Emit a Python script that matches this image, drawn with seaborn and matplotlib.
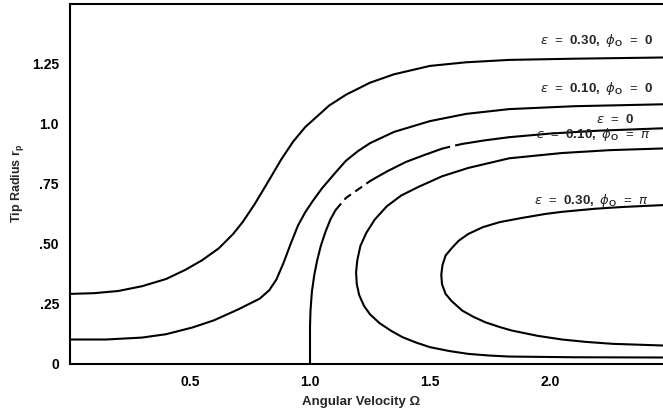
import numpy as np
import pandas as pd
import matplotlib
matplotlib.use("Agg")
import matplotlib.pyplot as plt
import seaborn as sns

# ---------------- data ----------------
omega_e30_p0 = [0.0, 0.1, 0.2, 0.3, 0.4, 0.48, 0.55, 0.62, 0.68, 0.72, 0.77, 0.83, 0.88, 0.93, 0.98,
                1.03, 1.08, 1.15, 1.25, 1.35, 1.50, 1.65, 1.83, 2.10, 2.47]
r_e30_p0     = [0.29, 0.293, 0.302, 0.322, 0.352, 0.39, 0.43, 0.48, 0.54, 0.59, 0.665, 0.765, 0.85, 0.925, 0.985,
                1.03, 1.075, 1.12, 1.17, 1.205, 1.24, 1.255, 1.265, 1.27, 1.275]

omega_e10_p0 = [0.0, 0.15, 0.3, 0.4, 0.51, 0.6, 0.7, 0.79, 0.83, 0.86, 0.89, 0.92, 0.95, 0.98, 1.01,
                1.05, 1.11, 1.15, 1.20, 1.25, 1.35, 1.50, 1.65, 1.83, 2.10, 2.47]
r_e10_p0     = [0.10, 0.10, 0.108, 0.122, 0.15, 0.18, 0.225, 0.27, 0.305, 0.35, 0.42, 0.50, 0.575, 0.63, 0.675,
                0.73, 0.80, 0.845, 0.885, 0.918, 0.965, 1.01, 1.04, 1.06, 1.072, 1.08]

omega_e0 = [1.0, 1.0, 1.002, 1.008, 1.018, 1.03, 1.045, 1.065, 1.085, 1.107, 1.15, 1.20, 1.25,
            1.32, 1.40, 1.48, 1.55, 1.59, 1.635, 1.73, 1.83, 2.0, 2.2, 2.47]
r_e0     = [0.0, 0.15, 0.22, 0.30, 0.37, 0.43, 0.49, 0.55, 0.60, 0.64, 0.69, 0.725, 0.76,
            0.80, 0.84, 0.87, 0.895, 0.905, 0.915, 0.93, 0.943, 0.958, 0.97, 0.98]

omega_e10_pi = [2.47, 2.25, 2.05, 1.83, 1.66, 1.55, 1.45, 1.38, 1.32, 1.27, 1.235, 1.21, 1.197, 1.192,
                1.195, 1.205, 1.225, 1.25, 1.29, 1.34, 1.385, 1.44, 1.50, 1.58, 1.66, 1.75, 1.83, 2.10, 2.47]
r_e10_pi     = [0.896, 0.889, 0.877, 0.855, 0.815, 0.78, 0.735, 0.70, 0.655, 0.60, 0.545, 0.49, 0.43, 0.38,
                0.33, 0.285, 0.24, 0.205, 0.168, 0.135, 0.11, 0.088, 0.068, 0.052, 0.04, 0.033, 0.029, 0.026, 0.025]

omega_e30_pi = [2.47, 2.30, 2.19, 2.05, 1.98, 1.88, 1.79, 1.72, 1.66, 1.62, 1.59, 1.565, 1.552, 1.547,
                1.55, 1.565, 1.59, 1.635, 1.68, 1.73, 1.79, 1.84, 1.95, 2.05, 2.15, 2.26, 2.47]
r_e30_pi     = [0.66, 0.652, 0.645, 0.632, 0.623, 0.606, 0.589, 0.568, 0.54, 0.512, 0.48, 0.45, 0.41, 0.37,
                0.33, 0.29, 0.26, 0.22, 0.195, 0.172, 0.152, 0.1375, 0.115, 0.10, 0.09, 0.082, 0.075]

curve_labels = [r"$\epsilon$  =  $\mathbf{0.30,}$ $\phi_{\mathbf{O}}$  =  $\mathbf{0}$",
                r"$\epsilon$  =  $\mathbf{0.10,}$ $\phi_{\mathbf{O}}$  =  $\mathbf{0}$",
                r"$\epsilon$  =  $\mathbf{0}$",
                r"$\epsilon$  =  $\mathbf{0.10,}$ $\phi_{\mathbf{O}}$  =  $\pi$",
                r"$\epsilon$  =  $\mathbf{0.30,}$ $\phi_{\mathbf{O}}$  =  $\pi$"]
label_x = [2.43, 2.43, 2.354, 2.417, 2.41]
label_y = [1.346, 1.146, 1.0175, 0.955, 0.68]

ytick_vals = [0, 0.25, 0.50, 0.75, 1.0, 1.25]
ytick_text = ["0", ".25", ".50", ".75", "1.0", "1.25"]
xtick_vals = [0.5, 1.0, 1.5, 2.0]
xtick_text = ["0.5", "1.0", "1.5", "2.0"]
xminor_vals = [0.25, 0.75, 1.25, 1.75, 2.25]

# dashed stretches of the eps = 0 curve (Omega ranges)
dash_ranges = [(1.107, 1.25), (1.55, 1.635)]

# ---------------- style ----------------
sns.set_style("white")
plt.rcParams["font.family"] = ["Liberation Sans", "DejaVu Sans"]
plt.rcParams["mathtext.fontset"] = "custom"
plt.rcParams["mathtext.rm"] = "Liberation Sans"
plt.rcParams["mathtext.it"] = "DejaVu Sans:italic"
plt.rcParams["mathtext.bf"] = "Liberation Sans:bold"

W, H = 663, 415
fig = plt.figure(figsize=(W / 100, H / 100), dpi=100)
ax = fig.add_axes([70 / W, 1 - 363.5 / H, 593 / W, 359.5 / H])

lw = 1.5
col = "black"

def draw(xs, ys, ls="-"):
    df = pd.DataFrame({"x": xs, "y": ys})
    sns.lineplot(data=df, x="x", y="y", sort=False, estimator=None, ax=ax,
                 color=col, lw=lw, linestyle=ls)

draw(omega_e30_p0, r_e30_p0)
draw(omega_e10_p0, r_e10_p0)
draw(omega_e10_pi, r_e10_pi)
draw(omega_e30_pi, r_e30_pi)

# eps = 0 curve split into solid and dashed stretches
om0 = np.array(omega_e0)
r0 = np.array(r_e0)
edges = [om0[0]] + [v for rg in dash_ranges for v in rg] + [om0[-1]]
for i in range(len(edges) - 1):
    lo, hi = edges[i], edges[i + 1]
    m = (om0 >= lo - 1e-9) & (om0 <= hi + 1e-9)
    if m.sum() < 2:
        continue
    ls = (0, (4, 2.5)) if i % 2 == 1 else "-"
    draw(om0[m], r0[m], ls)

for t, x, y in zip(curve_labels, label_x, label_y):
    ax.text(x, y, t, ha="right", va="center", fontsize=9.5)

ax.set_xlim(0, 593 / 240)
ax.set_ylim(0, 359.5 / 240)
ax.set_yticks(ytick_vals)
ax.set_yticklabels(ytick_text)
ax.set_xticks(xtick_vals)
ax.set_xticklabels(xtick_text)
ax.set_xticks(xminor_vals, minor=True)
ax.tick_params(axis="both", which="major", direction="in", length=4, width=1.2,
               labelsize=10, pad=8, colors="black")
ax.tick_params(axis="x", which="minor", direction="in", length=2, width=1)
for lab in ax.get_xticklabels() + ax.get_yticklabels():
    lab.set_fontweight("bold")

for s in ["left", "bottom", "top"]:
    ax.spines[s].set_visible(True)
    ax.spines[s].set_linewidth(1.5)
    ax.spines[s].set_color("black")
ax.spines["right"].set_visible(False)

ax.set_xlabel("Angular Velocity Ω", fontsize=9.5, fontweight="bold")
ax.set_ylabel(r"Tip Radius r$_{\mathbf{p}}$", fontsize=9, fontweight="bold")
ax.xaxis.set_label_coords(0.49, -0.09)
ax.yaxis.set_label_coords(-0.075, 0.5)

fig.savefig("out.png", dpi=100)
